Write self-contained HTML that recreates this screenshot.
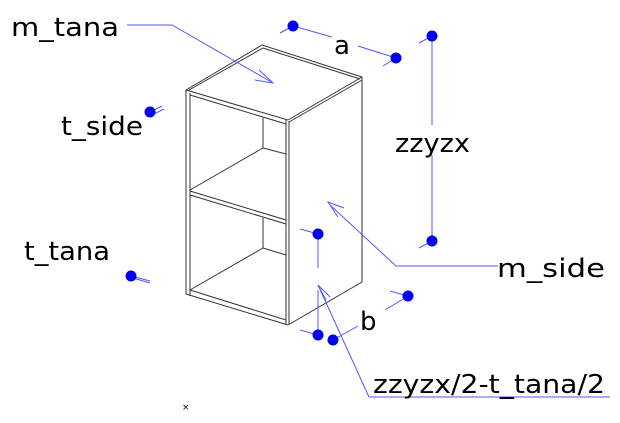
<!DOCTYPE html>
<html><head><style>body{margin:0;background:#fff}svg{display:block}text{font-family:"DejaVu Sans","Liberation Sans",sans-serif;font-size:26px;fill:#000}</style></head><body>
<svg width="620" height="423" viewBox="0 0 620 423" xmlns="http://www.w3.org/2000/svg">
<g stroke="#333" stroke-width="1" fill="none">
<polygon points="186,90 262,45 362,77 362,282 288,325 186,294"/>
<polyline points="189,90 263,48 360,79"/>
<line x1="186" y1="90" x2="288" y2="120"/>
<line x1="190" y1="95" x2="286" y2="124"/>
<line x1="288" y1="120" x2="362" y2="77"/>
<line x1="289" y1="122" x2="362" y2="80"/>
<line x1="286" y1="120" x2="286" y2="325"/>
<line x1="289" y1="121" x2="289" y2="324"/>
<line x1="190" y1="93" x2="190" y2="296"/>
<line x1="263" y1="118" x2="263" y2="148"/>
<line x1="263" y1="148" x2="190" y2="190"/>
<line x1="263" y1="148" x2="286" y2="154"/>
<line x1="190" y1="191" x2="286" y2="220"/>
<line x1="190" y1="195" x2="286" y2="224"/>
<line x1="263" y1="218" x2="263" y2="248"/>
<line x1="263" y1="248" x2="190" y2="290"/>
<line x1="263" y1="248" x2="286" y2="255"/>
<line x1="190" y1="290" x2="286" y2="320"/>
</g>
<g stroke="#5555ff" stroke-width="1" fill="none">
<polyline points="127,25 172,25 273,83"/>
<polyline points="259,70 273,83 255,80"/>
<line x1="280" y1="33" x2="293" y2="26"/><line x1="293" y1="26" x2="332" y2="37"/>
<line x1="358" y1="46" x2="396" y2="58"/><line x1="383" y1="66" x2="396" y2="58"/>
<line x1="419" y1="43" x2="432" y2="36"/><line x1="432" y1="36" x2="432" y2="125"/>
<line x1="432" y1="155" x2="432" y2="241"/><line x1="419" y1="248" x2="432" y2="241"/>
<line x1="150" y1="112" x2="162" y2="106"/><line x1="152" y1="115" x2="164" y2="109"/>
<line x1="131" y1="276" x2="150" y2="281"/><line x1="133" y1="278" x2="150" y2="283"/>
<polyline points="498,266 396,266 330,205"/>
<polyline points="344,208 328,202 338,217"/>
<line x1="300" y1="229" x2="318" y2="234"/><line x1="318" y1="234" x2="318" y2="268"/>
<line x1="318" y1="290" x2="318" y2="335"/><line x1="300" y1="330" x2="318" y2="335"/>
<line x1="333" y1="340" x2="358" y2="326"/><line x1="385" y1="310" x2="408" y2="296"/><line x1="390" y1="291" x2="408" y2="296"/>
<polyline points="369,397 318,285"/>
<line x1="369" y1="397" x2="610" y2="397"/>
<line x1="318" y1="285" x2="326" y2="300"/><line x1="318" y1="285" x2="330" y2="297"/>
</g>
<g fill="#0000ee">
<circle cx="293" cy="26" r="5.5"/><circle cx="396" cy="58" r="5.5"/><circle cx="432" cy="36" r="5.5"/><circle cx="432" cy="241" r="5.5"/>
<circle cx="150" cy="112" r="5.5"/><circle cx="131" cy="276" r="5.5"/><circle cx="318" cy="234" r="5.5"/><circle cx="318" cy="335" r="5.5"/><circle cx="333" cy="340" r="5.5"/><circle cx="408" cy="296" r="5.5"/>
</g>
<text x="11" y="36" textLength="108" lengthAdjust="spacingAndGlyphs">m_tana</text>
<text x="334" y="54">a</text>
<text x="395" y="152" textLength="75" lengthAdjust="spacingAndGlyphs">zzyzx</text>
<text x="61" y="135" textLength="82" lengthAdjust="spacingAndGlyphs">t_side</text>
<text x="24" y="260" textLength="86" lengthAdjust="spacingAndGlyphs">t_tana</text>
<text x="497" y="277" textLength="108" lengthAdjust="spacingAndGlyphs">m_side</text>
<text x="360" y="330">b</text>
<text x="373" y="393" textLength="232" lengthAdjust="spacingAndGlyphs">zzyzx/2-t_tana/2</text>
<text x="182" y="410" style="font-size:9px">×</text>
</svg>
</body></html>
